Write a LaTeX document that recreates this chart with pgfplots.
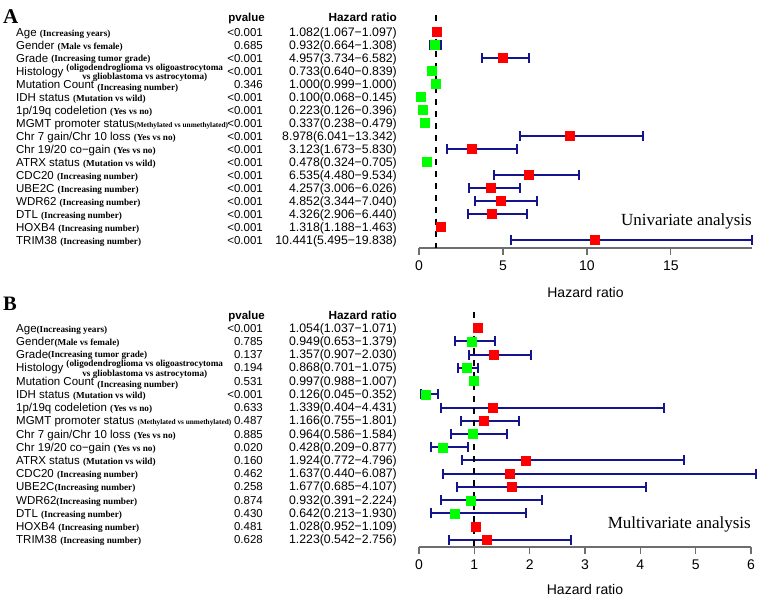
\documentclass[border=0pt]{standalone}
\usepackage{pgfplots}
\pgfplotsset{compat=1.18}
\usepackage{pgfplotstable}
\usepackage{fontspec}
\setmainfont{Liberation Sans}
\newfontfamily\tnr{Liberation Serif}

\definecolor{barblue}{RGB}{20,20,140}
\definecolor{hrred}{RGB}{255,0,0}
\definecolor{hrgreen}{RGB}{0,255,0}
\definecolor{axgray}{RGB}{110,110,110}

% small serif notes after the variable names
\newcommand\sm[1]{{\tnr\bfseries\fontsize{9.2bp}{9.6bp}\selectfont #1}}
\newcommand\xs[1]{{\tnr\bfseries\fontsize{7.3bp}{9bp}\selectfont #1}}
\newcommand\histo{\hspace{3bp}\raisebox{-0.3bp}{\sm{\begin{tabular}[c]{@{}c@{}}(oligodendroglioma vs oligoastrocytoma\\vs glioblastoma vs astrocytoma)\end{tabular}}}}

% one table row: label, pvalue, hazard ratio text
\newcommand\rowtext[4]{%
  \node[txt, anchor=base west] at ([xshift=-403bp,yshift=-4bp]axis cs:0,#1) {#2};
  \node[txt, anchor=base east] at ([xshift=-156bp,yshift=-4bp]axis cs:0,#1) {#3};
  \node[txt, anchor=base east, font=\fontsize{12.3bp}{13bp}\selectfont] at ([xshift=-22bp,yshift=-4bp]axis cs:0,#1) {#4};}

\tikzset{txt/.style={inner sep=0pt, font=\fontsize{11.5bp}{13bp}\selectfont}}

\pgfplotsset{forest/.style={
  scale only axis, clip=false, y dir=reverse,
  axis x line*=bottom, axis y line=none,
  x axis line style={draw=axgray, line width=1.3bp},
  xtick style={draw=axgray, line width=1.3bp},
  tick align=outside, major tick length=7bp,
  ytick=\empty,
  tick label style={font=\fontsize{14bp}{16bp}\selectfont},
  xticklabel style={yshift=-2bp},
  /pgf/number format/assume math mode=true,
  xlabel={Hazard ratio},
  xlabel style={font=\fontsize{14bp}{16bp}\selectfont, at={(axis description cs:0.5,0)}, anchor=center},
}}

% row hr lo hi class (r: HR>1, g: HR<=1)
\pgfplotstableread{
row hr lo hi c
1 1.082 1.067 1.097 r
2 0.932 0.664 1.308 g
3 4.957 3.734 6.582 r
4 0.733 0.640 0.839 g
5 1.000 0.999 1.000 g
6 0.100 0.068 0.145 g
7 0.223 0.126 0.396 g
8 0.337 0.238 0.479 g
9 8.978 6.041 13.342 r
10 3.123 1.673 5.830 r
11 0.478 0.324 0.705 g
12 6.535 4.480 9.534 r
13 4.257 3.006 6.026 r
14 4.852 3.344 7.040 r
15 4.326 2.906 6.440 r
16 1.318 1.188 1.463 r
17 10.441 5.495 19.838 r
}\tabA

\pgfplotstableread{
row hr lo hi c
1 1.054 1.037 1.071 r
2 0.949 0.653 1.379 g
3 1.357 0.907 2.030 r
4 0.868 0.701 1.075 g
5 0.997 0.988 1.007 g
6 0.126 0.045 0.352 g
7 1.339 0.404 4.431 r
8 1.166 0.755 1.801 r
9 0.964 0.586 1.584 g
10 0.428 0.209 0.877 g
11 1.924 0.772 4.796 r
12 1.637 0.440 6.087 r
13 1.677 0.685 4.107 r
14 0.932 0.391 2.224 g
15 0.642 0.213 1.930 g
16 1.028 0.952 1.109 r
17 1.223 0.542 2.756 r
}\tabB

\pgfplotsset{
  cibars/.style={draw=none, mark=none, forget plot,
    error bars/.cd, x dir=both, x explicit, error mark=none,
    error bar style={draw=barblue, solid, line width=2bp}},
  cicaps/.style={only marks, forget plot, mark=|, mark size=5bp,
    mark options={draw=barblue, solid, line width=2bp}},
  hrmarks/.style={scatter, only marks, scatter src=explicit symbolic,
    scatter/classes={
      r={mark=square*, draw=hrred, fill=hrred, mark size=4.5bp},
      g={mark=square*, draw=hrgreen, fill=hrgreen, mark size=4.5bp}}},
  zeroline/.style={black, line width=2bp, dash pattern=on 6bp off 6bp},
}

\begin{document}
\begin{tikzpicture}
\path[use as bounding box] (0,0) rectangle (760bp,598bp);

\node[anchor=base west, inner sep=0pt, font=\tnr\bfseries\fontsize{21bp}{24bp}\selectfont] at (3bp,574bp) {A};
\node[anchor=base west, inner sep=0pt, font=\tnr\bfseries\fontsize{20.5bp}{24bp}\selectfont] at (3bp,287bp) {B};

% ---------------- A: univariate
\begin{axis}[forest,
  at={(419bp,350bp)}, anchor=south west,
  width=333bp, height=233bp,
  xmin=0, xmax=19.838, ymin=-0.31, ymax=17.615,
  xtick={0,5,10,15},
  xlabel style={yshift=-44bp}]
\addplot[cibars] table[x=hr, y=row,
  x error plus expr=\thisrow{hi}-\thisrow{hr},
  x error minus expr=\thisrow{hr}-\thisrow{lo}] {\tabA};
\addplot[cicaps] table[x=lo, y=row] {\tabA};
\addplot[cicaps] table[x=hi, y=row] {\tabA};
\addplot[zeroline] coordinates {(1,-0.31) (1,17.615)};
\addplot[hrmarks] table[x=hr, y=row, meta=c] {\tabA};

\node[txt, anchor=base east, font=\bfseries\fontsize{11.5bp}{13bp}\selectfont] at ([xshift=-154bp,yshift=-4bp]axis cs:0,-0.15) {pvalue};
\node[txt, anchor=base east, font=\bfseries\fontsize{11.8bp}{13bp}\selectfont] at ([xshift=-22bp,yshift=-4bp]axis cs:0,-0.15) {Hazard ratio};

\rowtext{1}{Age \sm{(Increasing years)}}{<0.001}{1.082(1.067−1.097)}
\rowtext{2}{Gender \sm{(Male vs female)}}{0.685}{0.932(0.664−1.308)}
\rowtext{3}{Grade \raisebox{0.5bp}{\sm{(Increasing tumor grade)}}}{<0.001}{4.957(3.734−6.582)}
\rowtext{4}{Histology\histo}{<0.001}{0.733(0.640−0.839)}
\rowtext{5}{Mutation Count \raisebox{-2bp}{\sm{(Increasing number)}}}{0.346}{1.000(0.999−1.000)}
\rowtext{6}{IDH status \sm{(Mutation vs wild)}}{<0.001}{0.100(0.068−0.145)}
\rowtext{7}{1p/19q codeletion \sm{(Yes vs no)}}{<0.001}{0.223(0.126−0.396)}
\rowtext{8}{MGMT promoter status\xs{(Methylated vs unmethylated)}}{<0.001}{0.337(0.238−0.479)}
\rowtext{9}{Chr 7 gain/Chr 10 loss \sm{(Yes vs no)}}{<0.001}{8.978(6.041−13.342)}
\rowtext{10}{Chr 19/20 co−gain \sm{(Yes vs no)}}{<0.001}{3.123(1.673−5.830)}
\rowtext{11}{ATRX status \sm{(Mutation vs wild)}}{<0.001}{0.478(0.324−0.705)}
\rowtext{12}{CDC20 \sm{(Increasing number)}}{<0.001}{6.535(4.480−9.534)}
\rowtext{13}{UBE2C \sm{(Increasing number)}}{<0.001}{4.257(3.006−6.026)}
\rowtext{14}{WDR62 \sm{(Increasing number)}}{<0.001}{4.852(3.344−7.040)}
\rowtext{15}{DTL \sm{(Increasing number)}}{<0.001}{4.326(2.906−6.440)}
\rowtext{16}{HOXB4 \sm{(Increasing number)}}{<0.001}{1.318(1.188−1.463)}
\rowtext{17}{TRIM38 \sm{(Increasing number)}}{<0.001}{10.441(5.495−19.838)}

\node[anchor=base east, inner sep=0pt, font=\tnr\fontsize{17bp}{20bp}\selectfont] at (axis cs:19.838,15.92) {Univariate analysis};
\end{axis}

% ---------------- B: multivariate
\begin{axis}[forest,
  at={(419bp,51bp)}, anchor=south west,
  width=332bp, height=235bp,
  xmin=0, xmax=6, ymin=-0.21, ymax=17.53,
  xtick={0,1,2,3,4,5,6},
  xlabel style={yshift=-42bp}]
\addplot[cibars] table[x=hr, y=row,
  x error plus expr=\thisrow{hi}-\thisrow{hr},
  x error minus expr=\thisrow{hr}-\thisrow{lo}] {\tabB};
\addplot[cicaps] table[x=lo, y=row] {\tabB};
\addplot[cicaps] table[x=hi, y=row] {\tabB};
\addplot[zeroline] coordinates {(1,-0.21) (1,17.53)};
\addplot[hrmarks] table[x=hr, y=row, meta=c] {\tabB};

\node[txt, anchor=base east, font=\bfseries\fontsize{11.5bp}{13bp}\selectfont] at ([xshift=-154bp,yshift=-4bp]axis cs:0,0.08) {pvalue};
\node[txt, anchor=base east, font=\bfseries\fontsize{11.8bp}{13bp}\selectfont] at ([xshift=-22bp,yshift=-4bp]axis cs:0,0.08) {Hazard ratio};

\rowtext{1}{Age\sm{(Increasing years)}}{<0.001}{1.054(1.037−1.071)}
\rowtext{2}{Gender\sm{(Male vs female)}}{0.785}{0.949(0.653−1.379)}
\rowtext{3}{Grade\raisebox{1.5bp}{\sm{(Increasing tumor grade)}}}{0.137}{1.357(0.907−2.030)}
\rowtext{4}{Histology\histo}{0.194}{0.868(0.701−1.075)}
\rowtext{5}{Mutation Count \raisebox{-2bp}{\sm{(Increasing number)}}}{0.531}{0.997(0.988−1.007)}
\rowtext{6}{IDH status \sm{(Mutation vs wild)}}{<0.001}{0.126(0.045−0.352)}
\rowtext{7}{1p/19q codeletion \sm{(Yes vs no)}}{0.633}{1.339(0.404−4.431)}
\rowtext{8}{MGMT promoter status \xs{(Methylated vs unmethylated)}}{0.487}{1.166(0.755−1.801)}
\rowtext{9}{Chr 7 gain/Chr 10 loss \sm{(Yes vs no)}}{0.885}{0.964(0.586−1.584)}
\rowtext{10}{Chr 19/20 co−gain \sm{(Yes vs no)}}{0.020}{0.428(0.209−0.877)}
\rowtext{11}{ATRX status \sm{(Mutation vs wild)}}{0.160}{1.924(0.772−4.796)}
\rowtext{12}{CDC20 \sm{(Increasing number)}}{0.462}{1.637(0.440−6.087)}
\rowtext{13}{UBE2C\sm{(Increasing number)}}{0.258}{1.677(0.685−4.107)}
\rowtext{14}{WDR62\sm{(Increasing number)}}{0.874}{0.932(0.391−2.224)}
\rowtext{15}{DTL \sm{(Increasing number)}}{0.430}{0.642(0.213−1.930)}
\rowtext{16}{HOXB4 \sm{(Increasing number)}}{0.481}{1.028(0.952−1.109)}
\rowtext{17}{TRIM38 \sm{(Increasing number)}}{0.628}{1.223(0.542−2.756)}

\node[anchor=base east, inner sep=0pt, font=\tnr\fontsize{17bp}{20bp}\selectfont] at (axis cs:6,16.17) {Multivariate analysis};
\end{axis}
\end{tikzpicture}
\end{document}
